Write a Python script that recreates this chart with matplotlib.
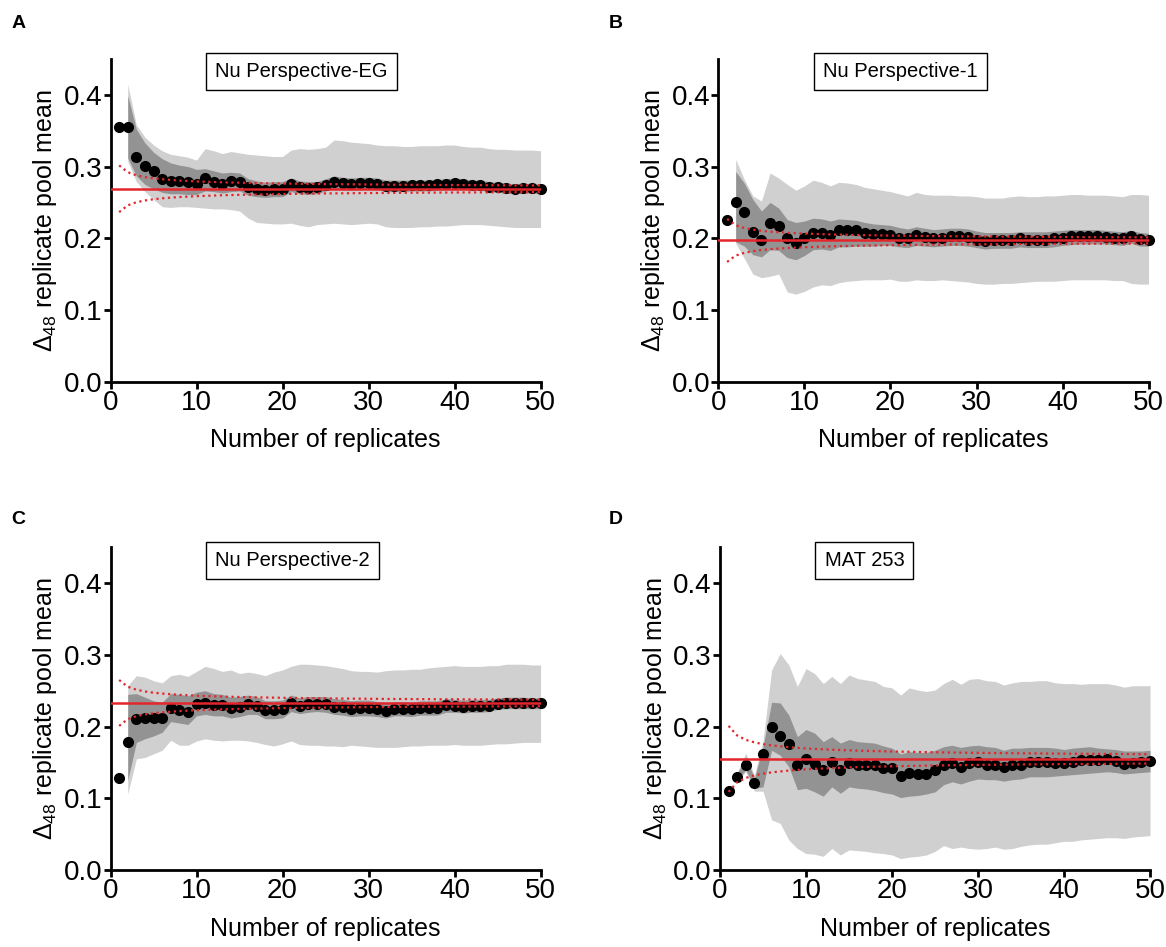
import numpy as np
import matplotlib
matplotlib.use("Agg")
import matplotlib.pyplot as plt

plt.rcParams['font.family'] = ['Liberation Sans', 'DejaVu Sans']
plt.rcParams['mathtext.fontset'] = 'custom'
plt.rcParams['mathtext.rm'] = 'Liberation Sans'

# number of replicates
n = np.arange(1, 51)
n_band = np.arange(2, 51)
n_dot = [1, 2, 3, 4, 5, 6, 8, 10, 13, 16, 20, 25, 30, 35, 40, 45, 50]

titles = ["Nu Perspective-EG", "Nu Perspective-1", "Nu Perspective-2", "MAT 253"]
letters = ["A", "B", "C", "D"]

# ---- panel A : Nu Perspective-EG
mean_a = [0.355, 0.355, 0.313, 0.301, 0.294, 0.282, 0.280, 0.280, 0.278, 0.276,
          0.284, 0.279, 0.276, 0.280, 0.279, 0.272, 0.269, 0.267, 0.268, 0.268,
          0.275, 0.271, 0.270, 0.271, 0.274, 0.279, 0.277, 0.275, 0.277, 0.277,
          0.276, 0.273, 0.273, 0.273, 0.274, 0.274, 0.274, 0.275, 0.276, 0.277,
          0.276, 0.274, 0.274, 0.272, 0.271, 0.270, 0.269, 0.270, 0.270, 0.269]
light_hi_a = [0.415, 0.358, 0.341, 0.330, 0.322, 0.317, 0.315, 0.313, 0.309,
              0.325, 0.322, 0.318, 0.321, 0.319, 0.317, 0.316, 0.315, 0.314, 0.314,
              0.323, 0.325, 0.324, 0.325, 0.327, 0.337, 0.336, 0.334, 0.333, 0.332,
              0.330, 0.329, 0.329, 0.328, 0.328, 0.329, 0.329, 0.329, 0.330, 0.330,
              0.328, 0.327, 0.327, 0.325, 0.324, 0.324, 0.323, 0.323, 0.323, 0.322]
light_lo_a = [0.307, 0.279, 0.265, 0.254, 0.244, 0.243, 0.244, 0.244, 0.243,
              0.242, 0.241, 0.241, 0.240, 0.238, 0.228, 0.222, 0.221, 0.220, 0.220,
              0.221, 0.218, 0.216, 0.219, 0.220, 0.221, 0.220, 0.219, 0.220, 0.221,
              0.220, 0.216, 0.215, 0.215, 0.215, 0.216, 0.216, 0.217, 0.217, 0.218,
              0.219, 0.219, 0.219, 0.218, 0.217, 0.216, 0.215, 0.215, 0.215, 0.215]
dark_hi_a = [0.399, 0.352, 0.333, 0.320, 0.311, 0.305, 0.302, 0.300, 0.296,
             0.297, 0.294, 0.291, 0.292, 0.291, 0.283, 0.280, 0.278, 0.279, 0.279,
             0.284, 0.280, 0.279, 0.279, 0.283, 0.287, 0.285, 0.284, 0.285, 0.285,
             0.284, 0.281, 0.281, 0.281, 0.281, 0.281, 0.281, 0.282, 0.283, 0.284,
             0.283, 0.281, 0.281, 0.279, 0.278, 0.277, 0.276, 0.277, 0.276, 0.275]
dark_lo_a = [0.312, 0.287, 0.275, 0.269, 0.264, 0.262, 0.262, 0.261, 0.261,
             0.266, 0.265, 0.263, 0.265, 0.266, 0.260, 0.258, 0.257, 0.258, 0.258,
             0.265, 0.262, 0.261, 0.262, 0.266, 0.270, 0.268, 0.267, 0.268, 0.268,
             0.268, 0.265, 0.265, 0.265, 0.266, 0.266, 0.266, 0.267, 0.268, 0.269,
             0.268, 0.267, 0.267, 0.265, 0.264, 0.263, 0.262, 0.263, 0.263, 0.262]
grand_a = 0.269
hw_a = [0.0326, 0.0231, 0.0188, 0.0163, 0.0146, 0.0133, 0.0115, 0.0103, 0.0090,
        0.0082, 0.0073, 0.0065, 0.0060, 0.0055, 0.0052, 0.0049, 0.0046]

# ---- panel B : Nu Perspective-1
mean_b = [0.225, 0.251, 0.236, 0.209, 0.197, 0.221, 0.217, 0.200, 0.194, 0.201,
          0.208, 0.208, 0.205, 0.211, 0.211, 0.211, 0.207, 0.206, 0.206, 0.205,
          0.201, 0.200, 0.204, 0.202, 0.200, 0.201, 0.203, 0.203, 0.202, 0.198,
          0.196, 0.197, 0.197, 0.198, 0.200, 0.198, 0.198, 0.198, 0.200, 0.201,
          0.203, 0.203, 0.203, 0.203, 0.202, 0.201, 0.200, 0.203, 0.199, 0.198]
light_hi_b = [0.310, 0.282, 0.259, 0.252, 0.291, 0.284, 0.275, 0.267, 0.273,
              0.281, 0.278, 0.273, 0.278, 0.277, 0.275, 0.271, 0.269, 0.267, 0.265,
              0.262, 0.259, 0.264, 0.261, 0.260, 0.260, 0.260, 0.259, 0.259, 0.258,
              0.256, 0.256, 0.256, 0.258, 0.259, 0.258, 0.258, 0.259, 0.259, 0.260,
              0.261, 0.261, 0.260, 0.260, 0.260, 0.259, 0.258, 0.261, 0.261, 0.260]
light_lo_b = [0.193, 0.172, 0.150, 0.145, 0.147, 0.150, 0.125, 0.122, 0.126,
              0.132, 0.135, 0.134, 0.138, 0.140, 0.141, 0.142, 0.142, 0.142, 0.143,
              0.140, 0.140, 0.142, 0.141, 0.141, 0.142, 0.141, 0.140, 0.139, 0.137,
              0.136, 0.136, 0.137, 0.137, 0.138, 0.139, 0.140, 0.140, 0.140, 0.141,
              0.142, 0.142, 0.142, 0.142, 0.142, 0.141, 0.141, 0.137, 0.136, 0.136]
dark_hi_b = [0.293, 0.277, 0.254, 0.238, 0.250, 0.242, 0.226, 0.222, 0.224,
             0.228, 0.227, 0.224, 0.227, 0.226, 0.225, 0.222, 0.220, 0.219, 0.218,
             0.215, 0.213, 0.216, 0.214, 0.212, 0.213, 0.214, 0.214, 0.213, 0.210,
             0.208, 0.208, 0.208, 0.208, 0.209, 0.209, 0.209, 0.209, 0.210, 0.211,
             0.212, 0.212, 0.212, 0.212, 0.211, 0.210, 0.209, 0.211, 0.208, 0.207]
dark_lo_b = [0.195, 0.189, 0.177, 0.174, 0.184, 0.183, 0.173, 0.170, 0.176,
             0.184, 0.185, 0.183, 0.188, 0.188, 0.189, 0.189, 0.189, 0.190, 0.190,
             0.188, 0.187, 0.190, 0.189, 0.188, 0.189, 0.190, 0.190, 0.189, 0.187,
             0.185, 0.186, 0.186, 0.186, 0.188, 0.187, 0.187, 0.187, 0.188, 0.190,
             0.191, 0.192, 0.192, 0.192, 0.192, 0.191, 0.190, 0.193, 0.189, 0.189]
grand_b = 0.197
hw_b = [0.030, 0.0212, 0.0173, 0.0150, 0.0134, 0.0122, 0.0106, 0.0095, 0.0083,
        0.0075, 0.0067, 0.0060, 0.0055, 0.0051, 0.0047, 0.0045, 0.0042]

# ---- panel C : Nu Perspective-2
mean_c = [0.129, 0.179, 0.211, 0.212, 0.212, 0.212, 0.226, 0.223, 0.220, 0.231,
          0.233, 0.230, 0.230, 0.226, 0.228, 0.231, 0.229, 0.223, 0.223, 0.224,
          0.233, 0.229, 0.231, 0.232, 0.231, 0.228, 0.227, 0.225, 0.226, 0.226,
          0.225, 0.222, 0.225, 0.225, 0.224, 0.226, 0.226, 0.226, 0.230, 0.229,
          0.228, 0.229, 0.229, 0.229, 0.232, 0.233, 0.233, 0.233, 0.233, 0.233]
light_hi_c = [0.257, 0.271, 0.269, 0.264, 0.261, 0.271, 0.273, 0.270, 0.277,
              0.284, 0.281, 0.277, 0.279, 0.274, 0.276, 0.274, 0.271, 0.276, 0.279,
              0.284, 0.287, 0.287, 0.286, 0.285, 0.283, 0.281, 0.278, 0.277, 0.277,
              0.276, 0.278, 0.279, 0.279, 0.280, 0.280, 0.282, 0.283, 0.284, 0.285,
              0.284, 0.284, 0.284, 0.285, 0.285, 0.287, 0.287, 0.287, 0.286, 0.286]
light_lo_c = [0.106, 0.155, 0.157, 0.162, 0.167, 0.181, 0.174, 0.174, 0.180,
              0.183, 0.181, 0.180, 0.181, 0.181, 0.180, 0.178, 0.175, 0.173, 0.176,
              0.180, 0.175, 0.174, 0.174, 0.173, 0.173, 0.172, 0.174, 0.173, 0.172,
              0.171, 0.171, 0.171, 0.172, 0.173, 0.173, 0.174, 0.174, 0.174, 0.175,
              0.174, 0.174, 0.174, 0.175, 0.176, 0.176, 0.177, 0.178, 0.178, 0.178]
dark_hi_c = [0.245, 0.246, 0.241, 0.236, 0.234, 0.246, 0.245, 0.243, 0.248,
             0.250, 0.246, 0.245, 0.241, 0.242, 0.244, 0.242, 0.236, 0.236, 0.237,
             0.244, 0.240, 0.242, 0.242, 0.242, 0.239, 0.238, 0.236, 0.237, 0.237,
             0.235, 0.233, 0.235, 0.235, 0.234, 0.236, 0.236, 0.236, 0.239, 0.238,
             0.237, 0.238, 0.238, 0.238, 0.240, 0.241, 0.241, 0.241, 0.240, 0.240]
dark_lo_c = [0.125, 0.178, 0.183, 0.187, 0.192, 0.207, 0.205, 0.203, 0.215,
             0.217, 0.215, 0.215, 0.212, 0.214, 0.217, 0.217, 0.211, 0.211, 0.212,
             0.221, 0.218, 0.220, 0.221, 0.220, 0.217, 0.216, 0.214, 0.215, 0.215,
             0.214, 0.212, 0.215, 0.215, 0.214, 0.216, 0.216, 0.216, 0.220, 0.220,
             0.219, 0.220, 0.220, 0.221, 0.224, 0.225, 0.225, 0.225, 0.225, 0.225]
grand_c = 0.233
hw_c = [0.032, 0.0226, 0.0185, 0.0160, 0.0143, 0.0131, 0.0113, 0.0101, 0.0089,
        0.0080, 0.0072, 0.0064, 0.0058, 0.0054, 0.0051, 0.0048, 0.0045]

# ---- panel D : MAT 253
mean_d = [0.110, 0.130, 0.147, 0.122, 0.162, 0.200, 0.187, 0.176, 0.147, 0.155,
          0.148, 0.139, 0.150, 0.140, 0.149, 0.147, 0.146, 0.146, 0.142, 0.142,
          0.131, 0.135, 0.134, 0.134, 0.139, 0.147, 0.149, 0.144, 0.149, 0.151,
          0.147, 0.147, 0.143, 0.147, 0.147, 0.150, 0.151, 0.150, 0.149, 0.149,
          0.150, 0.153, 0.154, 0.154, 0.155, 0.152, 0.148, 0.149, 0.150, 0.152]
light_hi_d = [0.136, 0.163, 0.132, 0.180, 0.279, 0.302, 0.286, 0.256, 0.281,
              0.274, 0.260, 0.270, 0.260, 0.272, 0.267, 0.265, 0.263, 0.256, 0.254,
              0.244, 0.254, 0.251, 0.249, 0.251, 0.260, 0.266, 0.259, 0.266, 0.267,
              0.264, 0.263, 0.258, 0.261, 0.263, 0.263, 0.264, 0.264, 0.261, 0.260,
              0.260, 0.259, 0.260, 0.260, 0.260, 0.258, 0.255, 0.257, 0.257, 0.257]
light_lo_d = [0.124, 0.137, 0.110, 0.110, 0.070, 0.065, 0.042, 0.030, 0.023,
              0.022, 0.019, 0.030, 0.021, 0.028, 0.027, 0.026, 0.024, 0.023, 0.021,
              0.016, 0.018, 0.019, 0.021, 0.026, 0.034, 0.030, 0.032, 0.030, 0.029,
              0.030, 0.032, 0.029, 0.030, 0.033, 0.035, 0.036, 0.036, 0.038, 0.040,
              0.040, 0.042, 0.043, 0.044, 0.045, 0.045, 0.044, 0.046, 0.047, 0.048]
dark_hi_d = [0.134, 0.158, 0.128, 0.172, 0.234, 0.233, 0.216, 0.186, 0.196,
             0.191, 0.179, 0.186, 0.177, 0.182, 0.179, 0.178, 0.177, 0.173, 0.170,
             0.162, 0.165, 0.164, 0.164, 0.167, 0.172, 0.174, 0.171, 0.173, 0.174,
             0.172, 0.171, 0.167, 0.170, 0.170, 0.171, 0.171, 0.171, 0.170, 0.168,
             0.170, 0.171, 0.172, 0.170, 0.169, 0.168, 0.166, 0.166, 0.166, 0.167]
dark_lo_d = [0.126, 0.140, 0.114, 0.116, 0.167, 0.160, 0.144, 0.112, 0.114,
             0.109, 0.103, 0.116, 0.107, 0.116, 0.114, 0.113, 0.111, 0.108, 0.106,
             0.101, 0.103, 0.104, 0.106, 0.109, 0.119, 0.123, 0.120, 0.124, 0.127,
             0.126, 0.126, 0.124, 0.126, 0.127, 0.130, 0.130, 0.130, 0.131, 0.132,
             0.133, 0.134, 0.135, 0.136, 0.137, 0.136, 0.134, 0.135, 0.136, 0.137]
grand_d = 0.155
hw_d = [0.046, 0.0325, 0.0266, 0.0230, 0.0206, 0.0188, 0.0163, 0.0145, 0.0128,
        0.0115, 0.0103, 0.0092, 0.0084, 0.0078, 0.0073, 0.0069, 0.0065]

panels = [
    (mean_a, light_hi_a, light_lo_a, dark_hi_a, dark_lo_a, grand_a, hw_a),
    (mean_b, light_hi_b, light_lo_b, dark_hi_b, dark_lo_b, grand_b, hw_b),
    (mean_c, light_hi_c, light_lo_c, dark_hi_c, dark_lo_c, grand_c, hw_c),
    (mean_d, light_hi_d, light_lo_d, dark_hi_d, dark_lo_d, grand_d, hw_d),
]

rects = [[0.0948, 0.597, 0.3688, 0.3407],
         [0.6162, 0.597, 0.3688, 0.3407],
         [0.0948, 0.0813, 0.3688, 0.3407],
         [0.6175, 0.0813, 0.3688, 0.3407]]
letter_pos = [(0.016, 0.975), (0.528, 0.975), (0.016, 0.451), (0.528, 0.451)]

red = "#e3262c"

fig = plt.figure(figsize=(11.66, 9.47), dpi=100)

for i, (mean, lhi, llo, dhi, dlo, grand, hw) in enumerate(panels):
    ax = fig.add_axes(rects[i])
    ax.fill_between(n_band, llo, lhi, color="#d0d0d0", lw=0, zorder=1)
    ax.fill_between(n_band, dlo, dhi, color="#939393", lw=0, zorder=2)
    ax.plot(n, mean, "o", color="black", ms=7, clip_on=False, zorder=3)
    ax.axhline(grand, color=red, lw=1.8, zorder=4)
    hw = np.array(hw)
    ax.plot(n_dot, grand + hw, ls=(0, (1, 1.6)), color=red, lw=1.6, zorder=4)
    ax.plot(n_dot, grand - hw, ls=(0, (1, 1.6)), color=red, lw=1.6, zorder=4)

    ax.set_xlim(0, 50)
    ax.set_ylim(0, 0.45)
    ax.set_xticks(range(0, 51, 10))
    ax.set_yticks([0.0, 0.1, 0.2, 0.3, 0.4])
    ax.set_yticklabels(["0.0", "0.1", "0.2", "0.3", "0.4"])
    for s in ["top", "right"]:
        ax.spines[s].set_visible(False)
    for s in ["left", "bottom"]:
        ax.spines[s].set_linewidth(2.0)
    ax.tick_params(width=2.0, length=5, labelsize=20, pad=1)
    ax.set_xlabel("Number of replicates", fontsize=18, labelpad=9)
    ax.set_ylabel(r"$\mathregular{\Delta_{48}}$ replicate pool mean", fontsize=18, labelpad=3)

    ax.text(0.243, 0.96, titles[i], transform=ax.transAxes, ha="left", va="center",
            fontsize=14.5, zorder=6,
            bbox=dict(boxstyle="square,pad=0.45", fc="white", ec="black", lw=1.0))

    fig.text(letter_pos[i][0], letter_pos[i][1], letters[i], fontsize=14,
             fontweight="bold", ha="center", va="center")

fig.savefig("out.png", dpi=100)
